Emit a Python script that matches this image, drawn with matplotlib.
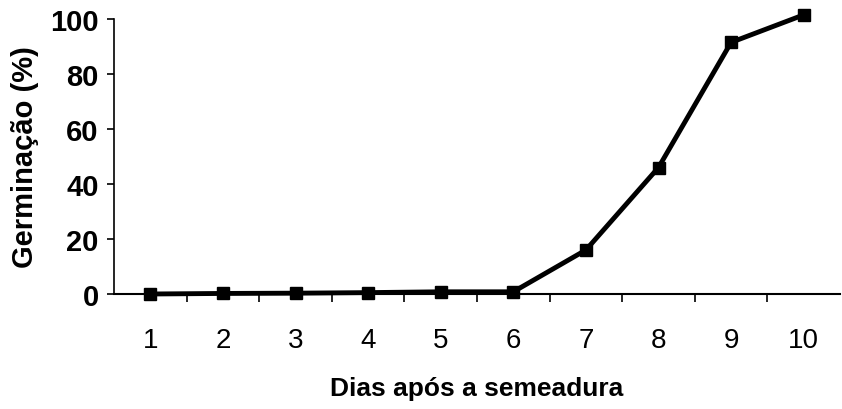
import matplotlib
matplotlib.use('Agg')
import matplotlib.pyplot as plt

# ========== 数据 ==========
dias = [1, 2, 3, 4, 5, 6, 7, 8, 9, 10]
germinacao = [0, 0.2, 0.3, 0.5, 0.8, 0.8, 16, 46, 91.5, 101.5]
y_ticks = [0, 20, 40, 60, 80, 100]

plt.rcParams['font.family'] = ['Liberation Sans', 'DejaVu Sans']

fig = plt.figure(figsize=(8.42, 4.10), dpi=100)
ax = fig.add_axes([114 / 842, 1 - 295 / 410, (840 - 114) / 842, 275 / 410])

ax.plot(dias, germinacao, color='black', linewidth=3.5, marker='s', markersize=8,
        clip_on=False, zorder=3)

ax.set_xlim(0.5, 10.5)
ax.set_ylim(0, 100)
ax.set_yticks(y_ticks)
ax.set_xticks(dias)
ax.set_xticks([d + 0.5 for d in dias[:-1]], minor=True)
ax.tick_params(axis='x', which='major', length=0, pad=24, labelsize=20)
ax.tick_params(axis='x', which='minor', length=6, width=1.2, direction='out')
ax.tick_params(axis='y', length=5, width=1.2, labelsize=21, pad=6)
for lab in ax.get_yticklabels():
    lab.set_fontweight('bold')

ax.spines['top'].set_visible(False)
ax.spines['right'].set_visible(False)
ax.spines['left'].set_linewidth(1.2)
ax.spines['bottom'].set_linewidth(1.5)

ax.set_ylabel('Germinação (%)', fontsize=21, fontweight='bold', labelpad=8)
ax.set_xlabel('Dias após a semeadura', fontsize=19, fontweight='bold', labelpad=16)

fig.savefig('out.png', dpi=100)
